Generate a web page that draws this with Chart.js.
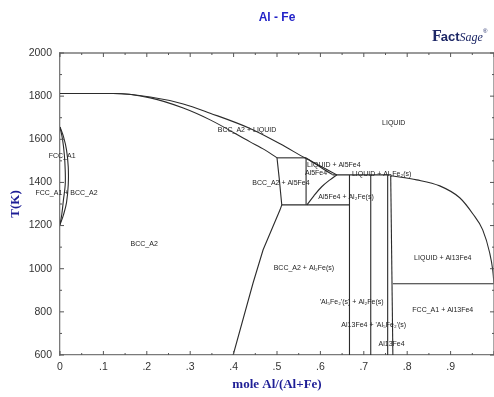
<!DOCTYPE html>
<html>
<head>
<meta charset="utf-8">
<title>Al - Fe</title>
<script src="https://cdn.jsdelivr.net/npm/chart.js@4.4.1/dist/chart.umd.min.js"></script>
<style>
    html, body {
        margin: 0;
        padding: 0;
        background: #ffffff;
        overflow: hidden;
    }

    .phase-diagram {
        position: relative;
        width: 500px;
        height: 397px;
    }
</style>
</head>
<body>
<div class="phase-diagram">
    <canvas id="alFeChart"></canvas>
</div>
<script>
    // Phase boundaries: [mole fraction Al, T in K]
    const liquidusBcc = [[0, 1812], [0.123, 1812], [0.208, 1796], [0.284, 1764], [0.346, 1721], [0.438, 1650], [0.507, 1579], [0.564, 1514], [0.600, 1476], [0.638, 1435]];
    const solidusBcc = [[0, 1812], [0.123, 1812], [0.208, 1792], [0.284, 1745], [0.346, 1690], [0.438, 1588], [0.472, 1551], [0.500, 1514]];
    const fccLoopOuter = [[0, 1657], [0.008, 1612], [0.015, 1551], [0.019, 1472], [0.019, 1389], [0.015, 1306], [0.008, 1250], [0, 1204]];
    const fccLoopInner = [[0, 1657], [0.006, 1597], [0.010, 1528], [0.012, 1458], [0.012, 1389], [0.008, 1320], [0.004, 1250], [0, 1204]];
    const bccBoundary = [[0.500, 1514], [0.505, 1421], [0.511, 1296], [0.507, 1273], [0.468, 1088], [0.445, 935], [0.399, 600]];
    const al5Fe4Top = [[0.500, 1514], [0.567, 1514]];
    const al5Fe4Left = [[0.567, 1514], [0.567, 1296]];
    const al5Fe4Solidus = [[0.567, 1514], [0.590, 1484], [0.612, 1455], [0.628, 1437]];
    const al5Fe4Solvus = [[0.569, 1296], [0.585, 1338], [0.603, 1380], [0.622, 1412], [0.638, 1435]];
    const eutectoid1296 = [[0.511, 1296], [0.667, 1296]];
    const eutectic1435 = [[0.628, 1435], [0.762, 1435]];
    const al2FeLine = [[0.667, 1435], [0.667, 600]];
    const al5Fe2Line = [[0.716, 1435], [0.716, 600]];
    const al13Fe4Left = [[0.755, 1431], [0.755, 600]];
    const al13Fe4Right = [[0.762, 1431], [0.767, 600]];
    const al13Fe4Liquidus = [[0.762, 1431], [0.822, 1412], [0.875, 1384], [0.921, 1329], [0.951, 1255], [0.974, 1180], [0.990, 1074], [0.997, 995], [1, 930]];
    const eutectic930 = [[0.767, 930], [1, 930]];

    const xTickStep = 0.1;
    const yTickStep = 200;
    const yRange = [600, 2000];

    // Region names and where they sit in (x, T)
    const regionLabels = [
        ['LIQUID', 0.769, 1676],
        ['BCC_A2 + LIQUID', 0.431, 1643],
        ['FCC_A1', 0.005, 1523],
        ['FCC_A1 + BCC_A2', 0.015, 1352],
        ['BCC_A2', 0.194, 1116],
        ['BCC_A2 + Al5Fe4', 0.509, 1398],
        ['LIQUID + Al5Fe4', 0.631, 1481],
        ['Al5Fe4', 0.590, 1442],
        ['LIQUID + Al\u2085Fe\u2082(s)', 0.741, 1437],
        ['Al5Fe4 + Al\u2082Fe(s)', 0.659, 1333],
        ['BCC_A2 + Al\u2082Fe(s)', 0.562, 1005],
        ['LIQUID + Al13Fe4', 0.882, 1051],
        ['FCC_A1 + Al13Fe4', 0.882, 810],
        ['\'Al\u2085Fe\u2082\'(s) + Al\u2082Fe(s)', 0.672, 847],
        ['Al13Fe4 + \'Al\u2085Fe\u2082\'(s)', 0.723, 741],
        ['Al13Fe4', 0.764, 653]
    ];

    // curve: 'monotone' for smooth curves running left to right, a number for plain tension
    const boundaries = [
        { points: liquidusBcc, curve: 'monotone' },
        { points: solidusBcc, curve: 'monotone' },
        { points: fccLoopOuter, curve: 0.4 },
        { points: fccLoopInner, curve: 0.4 },
        { points: bccBoundary, curve: 0 },
        { points: al5Fe4Top, curve: 0 },
        { points: al5Fe4Left, curve: 0 },
        { points: al5Fe4Solidus, curve: 'monotone' },
        { points: al5Fe4Solvus, curve: 'monotone' },
        { points: eutectoid1296, curve: 0 },
        { points: eutectic1435, curve: 0 },
        { points: al2FeLine, curve: 0 },
        { points: al5Fe2Line, curve: 0 },
        { points: al13Fe4Left, curve: 0 },
        { points: al13Fe4Right, curve: 0 },
        { points: al13Fe4Liquidus, curve: 'monotone' },
        { points: eutectic930, curve: 0 }
    ];

    const lineColor = '#2b2b2b';
    const frameColor = '#7a7a7a';
    const axisBlue = '#1e1e96';
    const sansFont = "'Liberation Sans', Arial, sans-serif";
    const serifFont = "'Liberation Serif', 'Times New Roman', serif";

    function toPoints(pairs) {
        return pairs.map(function (pair) {
            return { x: pair[0], y: pair[1] };
        });
    }

    const datasets = boundaries.map(function (boundary) {
        const dataset = {
            data: toPoints(boundary.points),
            showLine: true,
            borderColor: lineColor,
            borderWidth: 1.1,
            pointRadius: 0,
            fill: false
        };

        if (boundary.curve === 'monotone') {
            dataset.cubicInterpolationMode = 'monotone';
        } else {
            dataset.tension = boundary.curve;
        }

        return dataset;
    });

    // inward tick marks on all four sides, plus the top and right frame lines
    const frameTicks = {
        id: 'frameTicks',
        afterDatasetsDraw: function (chart) {
            const ctx = chart.ctx;
            const area = chart.chartArea;
            const xScale = chart.scales.x;
            const yScale = chart.scales.y;

            ctx.save();
            ctx.strokeStyle = frameColor;
            ctx.lineWidth = 1.3;
            ctx.beginPath();
            ctx.moveTo(area.left, area.top);
            ctx.lineTo(area.right, area.top);
            ctx.lineTo(area.right, area.bottom);
            ctx.stroke();

            ctx.strokeStyle = '#555555';
            ctx.lineWidth = 1;
            ctx.beginPath();
            for (let i = 0; i <= 20; i++) {
                const px = xScale.getPixelForValue(i * 0.05);
                const len = i % 2 === 0 ? 4 : 2;
                ctx.moveTo(px, area.bottom);
                ctx.lineTo(px, area.bottom - len);
                ctx.moveTo(px, area.top);
                ctx.lineTo(px, area.top + len);
            }
            for (let t = yRange[0]; t <= yRange[1]; t += 100) {
                const py = yScale.getPixelForValue(t);
                const len = t % 200 === 0 ? 4 : 2;
                ctx.moveTo(area.left, py);
                ctx.lineTo(area.left + len, py);
                ctx.moveTo(area.right, py);
                ctx.lineTo(area.right - len, py);
            }
            ctx.stroke();
            ctx.restore();
        }
    };

    const regionText = {
        id: 'regionText',
        afterDatasetsDraw: function (chart) {
            const ctx = chart.ctx;
            const xScale = chart.scales.x;
            const yScale = chart.scales.y;

            ctx.save();
            ctx.font = '7px ' + sansFont;
            ctx.fillStyle = '#222222';
            ctx.textAlign = 'center';
            ctx.textBaseline = 'middle';
            regionLabels.forEach(function (label) {
                ctx.fillText(label[0], xScale.getPixelForValue(label[1]), yScale.getPixelForValue(label[2]));
            });

            // FactSage mark, top right
            ctx.textAlign = 'left';
            ctx.textBaseline = 'alphabetic';
            ctx.fillStyle = '#1d2766';
            let x = 432;
            ctx.font = 'bold 16px ' + serifFont;
            ctx.fillText('F', x, 41);
            x += ctx.measureText('F').width - 1;
            ctx.font = 'bold 13px ' + sansFont;
            ctx.fillText('act', x, 41);
            x += ctx.measureText('act').width;
            ctx.font = 'italic 12px ' + serifFont;
            ctx.fillText('Sage', x, 41);
            x += ctx.measureText('Sage').width;
            ctx.font = '6px ' + sansFont;
            ctx.fillText('\u00ae', x, 33);
            ctx.restore();
        }
    };

    new Chart(document.getElementById('alFeChart'), {
        type: 'scatter',
        data: { datasets: datasets },
        plugins: [frameTicks, regionText],
        options: {
            responsive: true,
            maintainAspectRatio: false,
            animation: false,
            layout: {
                padding: { left: 0, right: 5.5, top: 0, bottom: 0 }
            },
            plugins: {
                legend: { display: false },
                tooltip: { enabled: false },
                title: {
                    display: true,
                    text: 'Al - Fe',
                    fullSize: false,
                    color: '#2323c8',
                    font: { family: sansFont, size: 12, weight: 'bold' },
                    padding: { top: 10, bottom: 28.6 }
                }
            },
            scales: {
                x: {
                    type: 'linear',
                    min: 0,
                    max: 1,
                    afterFit: function (scale) {
                        scale.height = 42;
                    },
                    grid: { display: false, drawTicks: false },
                    border: { display: true, color: frameColor, width: 1.3 },
                    ticks: {
                        stepSize: xTickStep,
                        padding: 6,
                        color: '#333333',
                        font: { family: sansFont, size: 10.5 },
                        callback: function (value) {
                            const v = Math.round(value * 10) / 10;
                            if (v === 0) {
                                return '0';
                            }
                            if (v >= 1) {
                                return '';
                            }
                            return v.toFixed(1).replace('0.', '.');
                        }
                    },
                    title: {
                        display: true,
                        text: 'mole Al/(Al+Fe)',
                        color: axisBlue,
                        font: { family: serifFont, size: 13, weight: 'bold' },
                        padding: { top: 0, bottom: 5 }
                    }
                },
                y: {
                    type: 'linear',
                    min: yRange[0],
                    max: yRange[1],
                    afterFit: function (scale) {
                        scale.width = 60;
                    },
                    grid: { display: false, drawTicks: false },
                    border: { display: true, color: frameColor, width: 1.3 },
                    ticks: {
                        stepSize: yTickStep,
                        padding: 8,
                        color: '#333333',
                        font: { family: sansFont, size: 10.5 },
                        callback: function (value) {
                            return String(value);
                        }
                    },
                    title: {
                        display: true,
                        text: 'T(K)',
                        color: axisBlue,
                        font: { family: serifFont, size: 13, weight: 'bold' },
                        padding: { top: 8, bottom: 0 }
                    }
                }
            }
        }
    });
</script>
</body>
</html>
